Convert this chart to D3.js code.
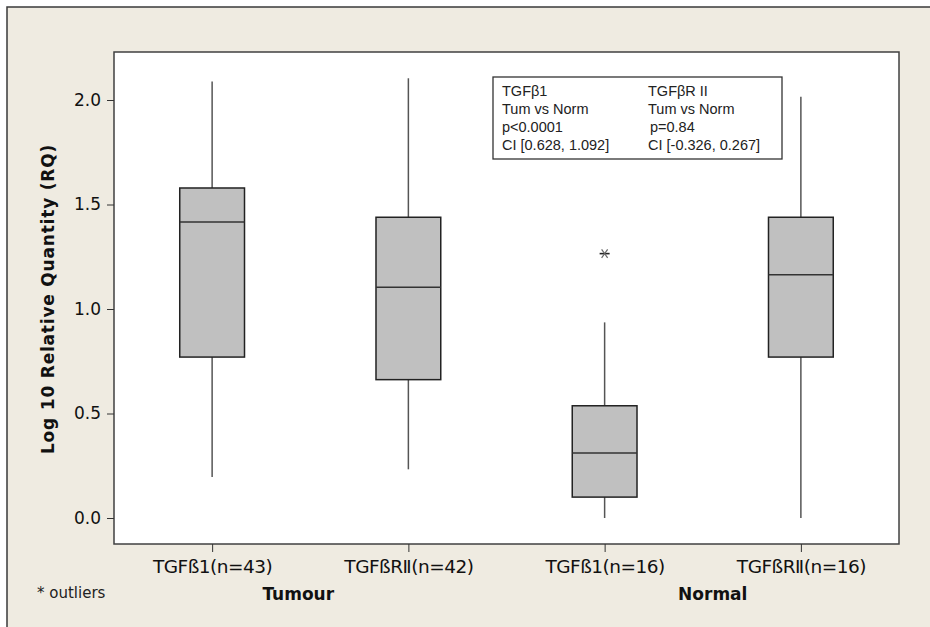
<!DOCTYPE html>
<html><head><meta charset="utf-8">
<script src="https://cdn.jsdelivr.net/npm/d3@7"></script>
<style>body{margin:0;background:#fff;}svg{display:block;}</style>
</head><body>
<svg id="chart" width="930" height="627"></svg>
<script>
// ---- data ----
const categories = ["TGFß1(n=43)", "TGFßRⅡ(n=42)", "TGFß1(n=16)", "TGFßRⅡ(n=16)"];
const groups = ["Tumour", "Normal"];
const whiskerLow  = [0.196, 0.233, 0.000, 0.000];
const q1          = [0.770, 0.662, 0.100, 0.770];
const median      = [1.416, 1.104, 0.311, 1.164];
const q3          = [1.579, 1.439, 0.537, 1.439];
const whiskerHigh = [2.088, 2.104, 0.936, 2.016];
const outlierCategory = ["TGFß1(n=16)"];
const outlierValue    = [1.265];
const yTicks = [0, 0.5, 1.0, 1.5, 2.0];
const statsCol1 = ["TGFβ1", "Tum vs Norm", "p<0.0001", "CI [0.628, 1.092]"];
const statsCol2 = ["TGFβR II", "Tum vs Norm", "p=0.84", "CI [-0.326, 0.267]"];

const svg = d3.select("#chart");
const plot = {left:114, right:899, top:52, bottom:544};

// background frame
svg.append("rect").attr("x",7).attr("y",7).attr("width",940).attr("height",640)
  .attr("fill","#EFEBE1").attr("stroke","#3a3a3a").attr("stroke-width",1.5);

const x = d3.scalePoint().domain(categories).range([plot.left, plot.right]).padding(0.5);
const y = d3.scaleLinear().domain([-0.1244, 2.2297]).range([plot.bottom, plot.top]);

svg.append("rect").attr("x",plot.left).attr("y",plot.top)
  .attr("width",plot.right-plot.left).attr("height",plot.bottom-plot.top)
  .attr("fill","#fff");

// boxes
const boxW = x.step()*0.33;
const data = categories.map((c,i)=>({c, lo:whiskerLow[i], q1:q1[i], med:median[i], q3:q3[i], hi:whiskerHigh[i]}));
const g = svg.append("g");
data.forEach(d=>{
  const cx = x(d.c);
  g.append("line").attr("x1",cx).attr("x2",cx).attr("y1",y(d.hi)).attr("y2",y(d.q3))
    .attr("stroke","#555").attr("stroke-width",1.5);
  g.append("line").attr("x1",cx).attr("x2",cx).attr("y1",y(d.q1)).attr("y2",y(d.lo))
    .attr("stroke","#555").attr("stroke-width",1.5);
  g.append("rect").attr("x",cx-boxW/2).attr("y",y(d.q3)).attr("width",boxW)
    .attr("height",y(d.q1)-y(d.q3)).attr("fill","#C0C0C0").attr("stroke","#222").attr("stroke-width",1.5);
  g.append("line").attr("x1",cx-boxW/2).attr("x2",cx+boxW/2).attr("y1",y(d.med)).attr("y2",y(d.med))
    .attr("stroke","#333").attr("stroke-width",1.5);
});

// outliers
outlierCategory.forEach((c,i)=>{
  const ox = x(c), oy = y(outlierValue[i]);
  const s = 5;
  const og = svg.append("g").attr("stroke","#222").attr("stroke-width",1.2);
  og.append("line").attr("x1",ox-s).attr("x2",ox+s).attr("y1",oy).attr("y2",oy).attr("stroke-width",1.6);
  og.append("line").attr("x1",ox-s*0.6).attr("x2",ox+s*0.6).attr("y1",oy-s*0.85).attr("y2",oy+s*0.85).attr("stroke","#666");
  og.append("line").attr("x1",ox-s*0.6).attr("x2",ox+s*0.6).attr("y1",oy+s*0.85).attr("y2",oy-s*0.85).attr("stroke","#666");
});

// plot border
svg.append("rect").attr("x",plot.left).attr("y",plot.top)
  .attr("width",plot.right-plot.left).attr("height",plot.bottom-plot.top)
  .attr("fill","none").attr("stroke","#404040").attr("stroke-width",1.5);

// y axis
const yAxis = svg.append("g").attr("transform",`translate(${plot.left},0)`)
  .call(d3.axisLeft(y).tickValues(yTicks).tickFormat(d3.format(".1f")).tickSize(7).tickPadding(6));
yAxis.select(".domain").remove();
yAxis.selectAll("line").attr("stroke","#333");
yAxis.selectAll("text").attr("font-family","DejaVu Sans").attr("font-size",17).attr("fill","#111");

// x axis
const xAxis = svg.append("g").attr("transform",`translate(0,${plot.bottom})`)
  .call(d3.axisBottom(x).tickSize(8).tickPadding(8));
xAxis.select(".domain").remove();
xAxis.selectAll("line").attr("stroke","#333");
xAxis.selectAll("text").attr("font-family","DejaVu Sans").attr("font-size",18.5).attr("fill","#111")
  .attr("dy","0.71em").attr("letter-spacing","-0.5");

// group labels
const groupX = [ (x(categories[0])+x(categories[1]))/2 - 12, (x(categories[2])+x(categories[3]))/2 + 10 ];
groups.forEach((gname,i)=>{
  svg.append("text").attr("x",groupX[i]).attr("y",600).attr("text-anchor","middle")
    .attr("font-family","DejaVu Sans").attr("font-weight","bold").attr("font-size",17)
    .attr("fill","#111").text(gname);
});

// outliers note
svg.append("text").attr("x",37).attr("y",598).attr("font-family","DejaVu Sans")
  .attr("font-size",15).attr("fill","#222").text("* outliers");

// y label
svg.append("text").attr("transform",`translate(54,${(y(0)+y(2))/2 -10}) rotate(-90)`)
  .attr("text-anchor","middle").attr("font-family","DejaVu Sans").attr("font-weight","bold")
  .attr("font-size",17).attr("letter-spacing","0.8").attr("fill","#111")
  .text("Log 10 Relative Quantity (RQ)");

// stats box
const sb = {x:493, y:77, w:289, h:82};
svg.append("rect").attr("x",sb.x).attr("y",sb.y).attr("width",sb.w).attr("height",sb.h)
  .attr("fill","#fff").attr("stroke","#333").attr("stroke-width",1.3);
[statsCol1, statsCol2].forEach((col,ci)=>{
  col.forEach((t,li)=>{
    svg.append("text").attr("x", ci===0 ? 502 : 648 + (li===2?2:0)).attr("y", 96 + li*18)
      .attr("font-family","Liberation Sans").attr("font-size",14.5).attr("fill","#222").text(t);
  });
});
</script>
</body></html>
